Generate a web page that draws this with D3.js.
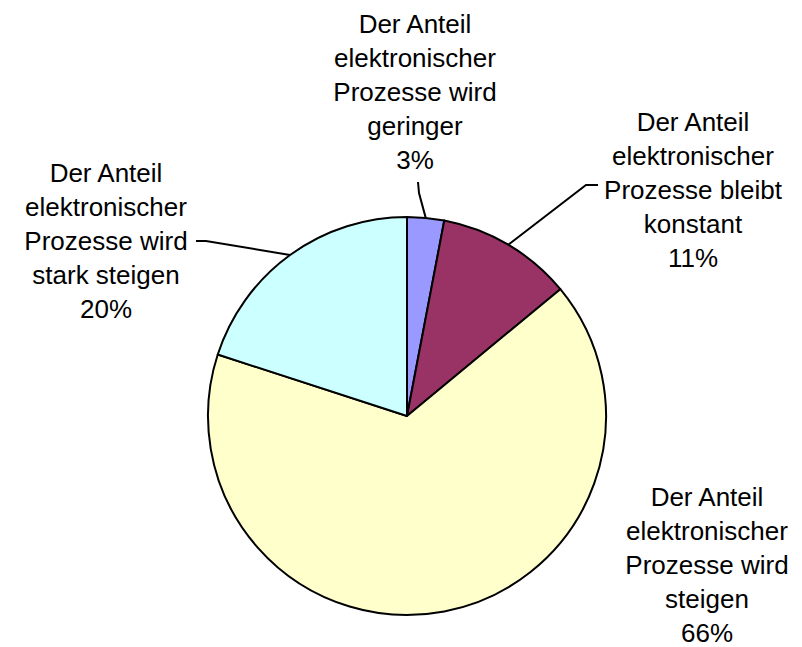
<!DOCTYPE html>
<html>
<head>
<meta charset="utf-8">
<script src="https://cdn.jsdelivr.net/npm/d3@7"></script>
<style>
  html, body { margin: 0; padding: 0; background: #fff; }
  svg { display: block; }
  text { font-family: "Liberation Sans", Arial, sans-serif; font-size: 26px; fill: #000; }
</style>
</head>
<body>
<svg id="chart" width="802" height="647"></svg>
<script>
// ---- data ----
const categories = [
  "Der Anteil elektronischer Prozesse wird geringer",
  "Der Anteil elektronischer Prozesse bleibt konstant",
  "Der Anteil elektronischer Prozesse wird steigen",
  "Der Anteil elektronischer Prozesse wird stark steigen"
];
const labelLines = [
  ["Der Anteil", "elektronischer", "Prozesse wird", "geringer"],
  ["Der Anteil", "elektronischer", "Prozesse bleibt", "konstant"],
  ["Der Anteil", "elektronischer", "Prozesse wird", "steigen"],
  ["Der Anteil", "elektronischer", "Prozesse wird", "stark steigen"]
];
const values = [3, 11, 66, 20];
const colors = ["#9999FF", "#993366", "#FFFFCC", "#CCFFFF"];

// ---- layout ----
const cx = 407, cy = 416, r = 199;
const lineH = 34;
const labelPos = [ // center x, first baseline
  {x: 415, y: 33},
  {x: 693, y: 131},
  {x: 707, y: 506},
  {x: 106, y: 182}
];
const leaders = [ // label-side points; ends at slice edge midpoint
  [[418, 182], [419, 193]],
  [[598, 185], [586, 185]],
  null,
  [[196, 241], [206, 241]]
];

const svg = d3.select("#chart");
const total = d3.sum(values);
const pie = d3.pie().sort(null).value(d => d)(values);
const arc = d3.arc().innerRadius(0).outerRadius(r);

const g = svg.append("g").attr("transform", `translate(${cx},${cy})`);
g.selectAll("path.slice").data(pie).enter().append("path")
  .attr("class", "slice")
  .attr("d", arc)
  .attr("fill", (d, i) => colors[i])
  .attr("stroke", "#000")
  .attr("stroke-width", 2)
  .attr("stroke-linejoin", "round");

// leader lines
pie.forEach((d, i) => {
  if (!leaders[i]) return;
  const a = (d.startAngle + d.endAngle) / 2;
  const ex = cx + r * Math.sin(a), ey = cy - r * Math.cos(a);
  const pts = leaders[i].concat([[ex, ey]]);
  svg.append("path")
    .attr("d", d3.line()(pts))
    .attr("fill", "none")
    .attr("stroke", "#000")
    .attr("stroke-width", 2);
});

// labels
pie.forEach((d, i) => {
  const pct = Math.round(values[i] / total * 100) + "%";
  const lines = labelLines[i].concat([pct]);
  const t = svg.append("text")
    .attr("text-anchor", "middle")
    .attr("x", labelPos[i].x)
    .attr("y", labelPos[i].y);
  lines.forEach((l, k) => {
    t.append("tspan")
      .attr("x", labelPos[i].x)
      .attr("y", labelPos[i].y + k * lineH)
      .text(l);
  });
});
</script>
</body>
</html>
